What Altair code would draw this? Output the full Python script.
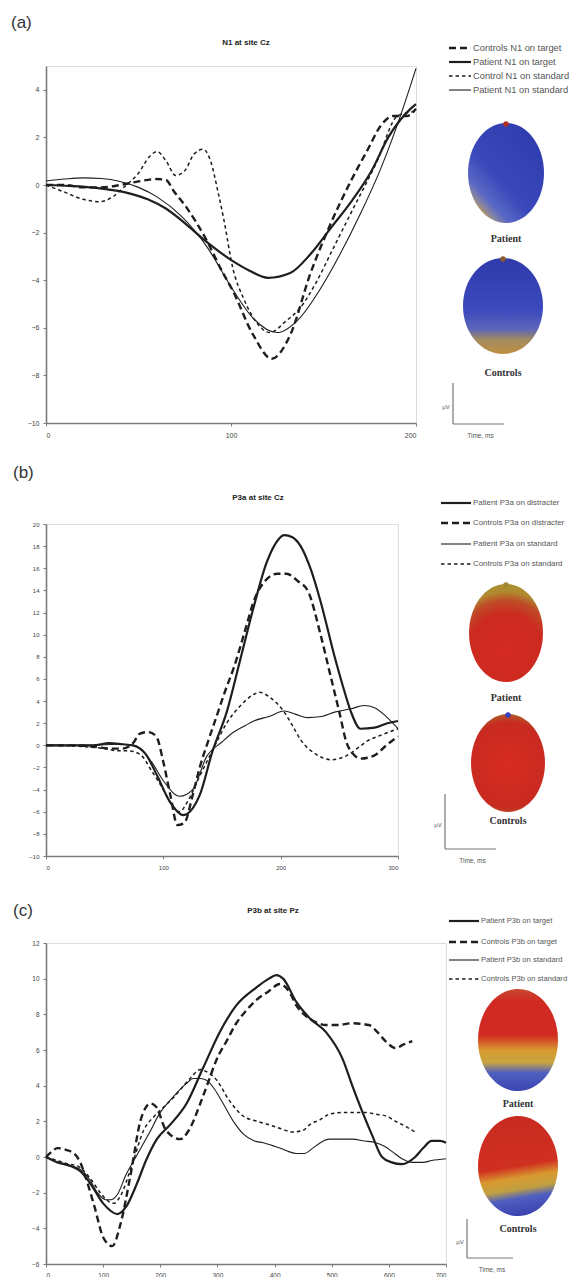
import altair as alt
import pandas as pd

# ---------------- Panel (a): N1 at site Cz ----------------
a_ctrl_tgt_t = [0, 10, 20, 30, 40, 50, 60, 65, 69, 76, 87, 95, 101, 112, 122, 132, 143, 154, 165, 174, 181, 188, 195, 200]
a_ctrl_tgt_v = [0, 0, -0.1, -0.1, 0, 0.15, 0.25, 0.2, -0.25, -0.95, -2.35, -3.6, -4.45, -6.3, -7.3, -6.3, -3.7, -1.6, 0.2, 1.5, 2.5, 2.9, 2.9, 3.2]

a_pat_tgt_t = [0, 15, 30, 45, 55, 65, 75, 87, 101, 110, 120, 132, 143, 154, 165, 176, 185, 197, 200]
a_pat_tgt_v = [0, -0.05, -0.15, -0.35, -0.6, -1.0, -1.6, -2.4, -3.2, -3.6, -3.9, -3.7, -2.9, -1.8, -0.7, 0.6, 2.0, 3.2, 3.4]

a_ctrl_std_t = [0, 10, 20, 29, 36, 42, 50, 56, 60, 65, 70, 75, 80, 85, 89, 93, 96, 101, 107, 114, 121, 130, 137, 146, 155, 166, 179, 190, 200]
a_ctrl_std_v = [0, -0.3, -0.6, -0.7, -0.5, -0.1, 0.5, 1.2, 1.4, 1.0, 0.4, 0.6, 1.3, 1.5, 1.0, -0.3, -1.4, -3.5, -4.8, -5.8, -6.2, -5.7, -5.2, -4.1, -2.7, -1.0, 1.0, 2.9, 3.1]

a_pat_std_t = [0, 10, 20, 30, 40, 50, 60, 73, 87, 101, 112, 125, 137, 148, 159, 170, 181, 192, 200]
a_pat_std_v = [0.17, 0.25, 0.3, 0.27, 0.15, -0.1, -0.5, -1.3, -2.6, -4.4, -5.6, -6.2, -5.6, -4.4, -2.9, -1.2, 0.7, 3.0, 4.9]

a_labels = ["Controls N1 on target", "Patient N1 on target", "Control N1 on standard", "Patient N1 on standard"]

# ---------------- Panel (b): P3a at site Cz ----------------
b_pat_dis_t = [0, 20, 40, 54, 65, 74, 85, 95, 105, 117, 125, 131, 142, 154, 165, 177, 188, 196, 203, 210, 217, 226, 234, 246, 254, 260, 268, 280, 291, 300]
b_pat_dis_v = [0, 0, 0, 0.2, 0.1, 0, -0.8, -2.8, -5.0, -6.3, -5.7, -4.5, -0.5, 3.0, 7.5, 12.5, 16.5, 18.3, 19.0, 18.8, 18.0, 15.8, 13.0, 8.0, 5.0, 3.0, 1.5, 1.6, 2.0, 2.2]

b_ctrl_dis_t = [0, 20, 40, 55, 65, 75, 79, 87, 94, 100, 106, 112, 118, 125, 131, 137, 145, 153, 160, 170, 177, 188, 197, 205, 215, 223, 234, 242, 250, 256, 262, 268, 280, 290, 300]
b_ctrl_dis_v = [0, 0, -0.1, -0.3, -0.3, 0.3, 1.0, 1.2, 0.8, -1.5, -4.5, -7.2, -7.0, -4.5, -2.0, 0, 2.5, 5.0, 7.0, 10.5, 13.0, 15.0, 15.5, 15.5, 14.8, 14.0, 10.0, 6.5, 3.0, 0.3, -0.8, -1.2, -0.9, 0, 0.8]

b_pat_std_t = [0, 40, 60, 75, 90, 100, 114, 125, 137, 150, 160, 170, 177, 190, 203, 213, 223, 235, 246, 260, 271, 280, 290, 300]
b_pat_std_v = [0, 0, 0.1, 0, -1.5, -3.2, -4.6, -4.0, -1.0, 0.3, 1.2, 1.8, 2.2, 2.6, 3.1, 2.8, 2.5, 2.6, 3.0, 3.3, 3.6, 3.4, 2.6, 1.5]

b_ctrl_std_t = [0, 30, 50, 62, 70, 80, 90, 100, 108, 114, 120, 130, 137, 145, 154, 165, 177, 182, 190, 203, 210, 217, 230, 243, 255, 265, 274, 285, 300]
b_ctrl_std_v = [0, -0.1, -0.3, -0.5, -0.5, -0.8, -2.3, -4.0, -5.5, -6.0, -5.2, -3.0, -1.5, 0.2, 2.0, 3.5, 4.6, 4.8, 4.4, 3.0, 1.8, 0.5, -0.8, -1.3, -1.0, -0.3, 0.4, 0.9, 1.5]

b_labels = ["Patient P3a on distracter", "Controls P3a on distracter", "Patient P3a on standard", "Controls P3a on standard"]

# ---------------- Panel (c): P3b at site Pz ----------------
c_pat_tgt_t = [0, 20, 43, 60, 78, 100, 125, 140, 159, 175, 194, 217, 246, 275, 304, 333, 368, 390, 403, 415, 438, 461, 490, 519, 536, 554, 571, 588, 605, 623, 646, 660, 675, 690, 700]
c_pat_tgt_v = [0, -0.3, -0.5, -0.8, -1.5, -2.6, -3.2, -2.8, -1.5, -0.2, 1.0, 1.8, 3.0, 5.0, 7.0, 8.5, 9.5, 10.0, 10.2, 10.0, 8.7, 7.8, 7.0, 5.5, 4.0, 2.5, 1.2, 0, -0.3, -0.4, 0, 0.5, 0.9, 0.9, 0.8]

c_ctrl_tgt_t = [0, 10, 20, 35, 49, 60, 70, 85, 100, 116, 130, 148, 165, 175, 183, 193, 210, 235, 250, 270, 285, 299, 316, 333, 350, 368, 390, 409, 425, 438, 455, 470, 490, 510, 536, 565, 580, 594, 612, 625, 641]
c_ctrl_tgt_v = [0, 0.3, 0.5, 0.4, 0.2, -0.3, -1.2, -2.8, -4.5, -5.0, -3.8, -1.0, 2.0, 2.8, 3.0, 2.8, 1.5, 1.0, 1.5, 3.0, 4.3, 5.5, 6.5, 7.5, 8.2, 8.8, 9.3, 9.7, 9.3, 8.5, 7.9, 7.6, 7.4, 7.4, 7.5, 7.4, 7.0, 6.5, 6.1, 6.3, 6.5]

c_pat_std_t = [0, 20, 40, 55, 75, 90, 105, 113, 125, 140, 159, 180, 200, 215, 229, 245, 258, 270, 281, 295, 310, 330, 345, 365, 380, 400, 409, 425, 438, 452, 467, 480, 496, 516, 536, 557, 577, 592, 606, 623, 641, 660, 675, 700]
c_pat_std_v = [0, -0.3, -0.5, -0.6, -1.2, -2.0, -2.4, -2.4, -2.1, -1.0, 0.1, 1.3, 2.5, 3.1, 3.6, 4.1, 4.4, 4.4, 4.3, 3.8, 3.0, 1.9, 1.3, 0.9, 0.8, 0.6, 0.5, 0.3, 0.2, 0.2, 0.5, 0.8, 1.0, 1.0, 1.0, 0.9, 0.8, 0.6, 0.3, -0.1, -0.3, -0.3, -0.2, -0.1]

c_ctrl_std_t = [0, 20, 40, 55, 75, 95, 110, 119, 130, 150, 171, 190, 206, 225, 241, 255, 270, 285, 299, 320, 345, 370, 391, 410, 432, 450, 461, 480, 496, 520, 542, 560, 577, 595, 612, 630, 646]
c_ctrl_std_v = [0, -0.2, -0.4, -0.5, -1.1, -2.0, -2.5, -2.6, -2.2, -0.5, 1.5, 2.3, 2.8, 3.4, 4.0, 4.5, 4.9, 4.7, 4.3, 3.2, 2.3, 2.0, 1.8, 1.6, 1.4, 1.5, 1.8, 2.1, 2.4, 2.5, 2.5, 2.5, 2.4, 2.3, 2.0, 1.7, 1.4]

c_labels = ["Patient P3b on target", "Controls P3b on target", "Patient P3b on standard", "Controls P3b on standard"]

# ---------------- styles ----------------
LINE = "#1e1e1e"
STY = {
    "thick_dash": dict(strokeWidth=2.4, strokeDash=[7, 4]),
    "thick_solid": dict(strokeWidth=2.2),
    "thin_dash": dict(strokeWidth=1.5, strokeDash=[3.5, 3]),
    "thin_solid": dict(strokeWidth=1.1),
}
ONE = pd.DataFrame({"k": [0]})


def txt(x, y, s, size=8, color="#444", font="Liberation Sans", weight="normal", align="left", baseline="middle"):
    return alt.Chart(ONE).mark_text(
        fontSize=size, color=color, font=font, fontWeight=weight, align=align, baseline=baseline
    ).encode(x=alt.value(x), y=alt.value(y), text=alt.value(s))


def rule(x1, y1, x2, y2, color="#777", width=1.2):
    return alt.Chart(ONE).mark_rule(color=color, strokeWidth=width).encode(
        x=alt.value(x1), y=alt.value(y1), x2=alt.value(x2), y2=alt.value(y2)
    )


def head(cx, cy, rx, ry, grad, nose=None):
    k = ry / rx
    path = f"M0,{-k} A1,{k} 0 1,1 0,{k} A1,{k} 0 1,1 0,{-k} Z"
    layers = [
        alt.Chart(ONE).mark_point(
            shape=path, size=(2 * rx) ** 2, filled=True, fill=grad, opacity=1, strokeWidth=0
        ).encode(x=alt.value(cx), y=alt.value(cy))
    ]
    if nose:
        layers.append(
            alt.Chart(ONE).mark_point(shape="circle", size=30, filled=True, color=nose, opacity=1)
            .encode(x=alt.value(cx), y=alt.value(cy - ry + 1))
        )
    return layers


def lin(stops, x1, y1, x2, y2):
    return alt.LinearGradient(
        gradient="linear",
        stops=[alt.GradientStop(color=c, offset=o) for o, c in stops],
        x1=x1, y1=y1, x2=x2, y2=y2,
    )


def rad(stops, cx, cy, r):
    return alt.RadialGradient(
        gradient="radial",
        stops=[alt.GradientStop(color=c, offset=o) for o, c in stops],
        x1=cx, y1=cy, r1=0, x2=cx, y2=cy, r2=r,
    )


def panel(series, labels, order, xdom, xvals, ydom, yvals, w, h, letter, title, tpos,
          leg_rows, leg_x, leg_font, heads, lab_pos, bar, lab_font=7):
    xs = alt.Scale(domain=xdom, nice=False, zero=False)
    ys = alt.Scale(domain=ydom, nice=False, zero=False)
    common = dict(grid=False, domainColor="#7a7a7a", domainWidth=1.6, tickColor="#7a7a7a",
                  tickSize=3, tickWidth=1, labelFontSize=lab_font, labelColor="#444",
                  labelFont="Liberation Sans", title=None)
    xax = alt.Axis(values=xvals, labelPadding=5, **common)
    yax = alt.Axis(values=yvals, labelPadding=4, **common)
    layers = []
    for (t, v), style in zip(series, order):
        df = pd.DataFrame({"t": t, "v": v})
        layers.append(
            alt.Chart(df).mark_line(color=LINE, interpolate="monotone", **STY[style]).encode(
                x=alt.X("t:Q", scale=xs, axis=xax), y=alt.Y("v:Q", scale=ys, axis=yax)
            )
        )
    # panel letter and title
    layers.append(txt(letter[0], letter[1], letter[2], size=17, color="#333"))
    layers.append(txt(tpos[0], tpos[1], title, size=8, color="#222", weight="bold", align="center"))
    # legend
    for lab, style, yy in zip(labels, order, leg_rows):
        kw = dict(color=LINE, strokeWidth=STY[style]["strokeWidth"])
        if "strokeDash" in STY[style]:
            kw["strokeDash"] = STY[style]["strokeDash"]
        layers.append(
            alt.Chart(ONE).mark_rule(**kw).encode(
                x=alt.value(leg_x[0]), x2=alt.value(leg_x[1]), y=alt.value(yy), y2=alt.value(yy)
            )
        )
        layers.append(txt(leg_x[1] + 2, yy, lab, size=leg_font, color="#555"))
    # topographic maps
    for hd in heads:
        layers.extend(head(*hd))
    layers.append(txt(lab_pos[0][0], lab_pos[0][1], "Patient", size=10, color="#333",
                      font="Liberation Serif", weight="bold", align="center"))
    layers.append(txt(lab_pos[1][0], lab_pos[1][1], "Controls", size=10, color="#333",
                      font="Liberation Serif", weight="bold", align="center"))
    # scale bar
    bx, by1, by2, bx2 = bar
    layers.append(rule(bx, by1, bx, by2))
    layers.append(rule(bx, by2, bx2, by2))
    layers.append(txt(bx - 7, (by1 + by2) / 2 + 3, "µV", size=6, color="#555", align="center"))
    layers.append(txt((bx + bx2) / 2 + 2, by2 + 12, "Time, ms", size=6.5, color="#555", align="center"))
    return alt.layer(*layers).properties(width=w, height=h)


pa = panel(
    [(a_ctrl_tgt_t, a_ctrl_tgt_v), (a_pat_tgt_t, a_pat_tgt_v), (a_ctrl_std_t, a_ctrl_std_v), (a_pat_std_t, a_pat_std_v)],
    a_labels, ["thick_dash", "thick_solid", "thin_dash", "thin_solid"],
    [0, 200], [0, 100, 200], [-10, 5], list(range(-10, 5, 2)), 370, 357,
    (-35, -43, "(a)"), "N1 at site Cz", (200, -23),
    [-18, -4, 10, 24], (403, 425), 9.3,
    [
        (460, 107, 38, 50, lin([(0, "#2f3cae"), (0.55, "#3a48bb"), (0.76, "#5a68c4"), (0.84, "#8a86a0"), (0.9, "#c49a48"), (1, "#b0402a")], 0.85, 0.1, 0.1, 1.0), "#b03020"),
        (457, 240, 40, 48, lin([(0, "#2f3aaa"), (0.55, "#3c4abd"), (0.74, "#5e66b8"), (0.85, "#a08a60"), (1, "#c09040")], 0.5, 0, 0.5, 1), "#8a5a30"),
    ],
    [(460, 173), (457, 307)],
    (407, 317, 358, 458),
)

pb = panel(
    [(b_pat_dis_t, b_pat_dis_v), (b_ctrl_dis_t, b_ctrl_dis_v), (b_pat_std_t, b_pat_std_v), (b_ctrl_std_t, b_ctrl_std_v)],
    b_labels, ["thick_solid", "thick_dash", "thin_solid", "thin_dash"],
    [0, 300], [0, 100, 200, 300], [-10, 20], list(range(-10, 21, 2)), 352, 332,
    (-33, -51, "(b)"), "P3a at site Cz", (212, -26),
    [-21, -1, 20, 40], (395, 425), 7.9,
    [
        (460, 109, 37, 49, rad([(0, "#d42a22"), (0.5, "#cc2a20"), (0.68, "#bf4a26"), (0.8, "#b08a30"), (1, "#a8922f")], 0.5, 0.68, 0.75), "#a08a30"),
        (462, 239, 37, 49, rad([(0, "#d82c22"), (0.75, "#c82a20"), (0.9, "#b05a28"), (1, "#9a7a30")], 0.5, 0.52, 0.58), "#3a40c0"),
    ],
    [(460, 174), (462, 297)],
    (399, 270, 325, 450), lab_font=6,
)

pc = panel(
    [(c_pat_tgt_t, c_pat_tgt_v), (c_ctrl_tgt_t, c_ctrl_tgt_v), (c_pat_std_t, c_pat_std_v), (c_ctrl_std_t, c_ctrl_std_v)],
    c_labels, ["thick_solid", "thick_dash", "thin_solid", "thin_dash"],
    [0, 700], list(range(0, 701, 100)), [-6, 12], list(range(-6, 13, 2)), 400, 321,
    (-33, -32, "(c)"), "P3b at site Pz", (227, -32),
    [-22, -1, 17, 36], (403, 433), 7.6,
    [
        (472, 97, 40, 51, lin([(0, "#c84a30"), (0.12, "#d02a22"), (0.45, "#d02a22"), (0.6, "#d89a30"), (0.72, "#c9a540"), (0.82, "#5060c0"), (1, "#3a44b0")], 0.5, 0, 0.5, 1)),
        (472, 223, 40, 50, lin([(0, "#c82a20"), (0.5, "#d03020"), (0.62, "#d89a30"), (0.73, "#c0a040"), (0.82, "#5060c0"), (1, "#3a40b0")], 0.42, 0.0, 0.55, 1.0)),
    ],
    [(472, 161), (472, 286)],
    (421, 276, 315, 467), lab_font=6.5,
)

chart = alt.vconcat(
    pa,
    alt.vconcat(pb, pc, spacing=87, bounds="flush"),
    spacing=101, bounds="flush",
).properties(
    padding={"left": 2, "top": 5, "right": 0, "bottom": 0}
).configure_view(stroke=None).configure(background="white")

chart.save("out.html", embed_options={"renderer": "svg", "actions": False})
